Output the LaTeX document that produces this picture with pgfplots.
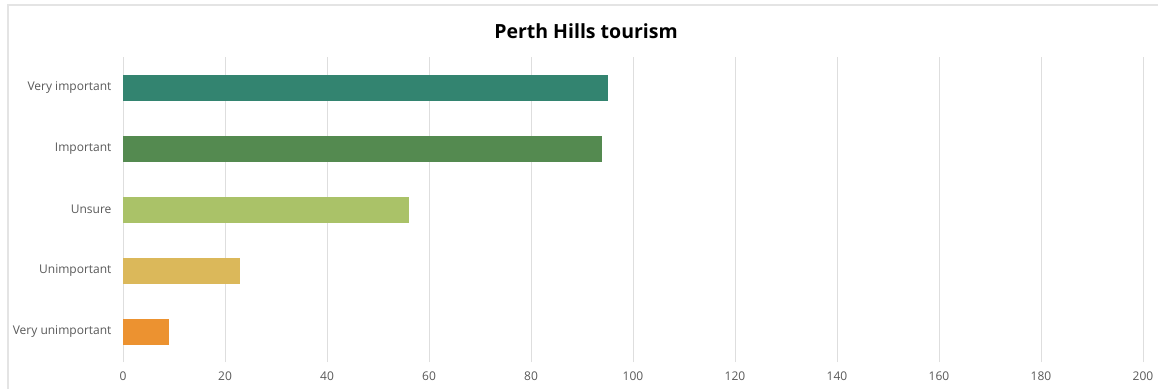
\documentclass[border=0pt]{standalone}
\usepackage{pgfplots}
\pgfplotsset{compat=1.18}
\usepackage{fontspec}
\setmainfont{Open Sans}
\definecolor{c1}{HTML}{338470}
\definecolor{c2}{HTML}{548A50}
\definecolor{c3}{HTML}{AAC268}
\definecolor{c4}{HTML}{DBB85A}
\definecolor{c5}{HTML}{EC9230}
\definecolor{txt}{HTML}{595959}
\definecolor{grd}{HTML}{DEDEDE}
\begin{document}
\begin{tikzpicture}[x=1pt,y=1pt]
\path[use as bounding box] (0,0) rectangle (1158,389);
\draw[grd!80, line width=1.2pt] (8,0) -- (8,384) -- (1160,384);
\node[font=\fontsize{19.5}{22}\selectfont\bfseries] at (586,358) {Perth Hills tourism};
\begin{axis}[
  at={(123pt,27pt)}, anchor=south west,
  scale only axis, width=1020pt, height=305pt,
  xmin=0, xmax=200, xtick={0,20,...,200},
  ymin=-0.5, ymax=4.5, ytick={0,1,2,3,4},
  yticklabels={Very unimportant,Unimportant,Unsure,Important,Very important},
  axis line style={draw=none},
  major tick length=0pt,
  xmajorgrids, grid style={grd, line width=1pt},
  tick label style={font=\fontsize{12}{14}\selectfont, text=txt},
  xticklabel style={yshift=-6pt},
  yticklabel style={xshift=-8pt},
  /pgf/number format/assume math mode=true,
  xbar, bar width=26pt, bar shift=0pt,
  clip=false,
]
\addplot[fill=c5, draw=none] coordinates {(9,0)};
\addplot[fill=c4, draw=none] coordinates {(23,1)};
\addplot[fill=c3, draw=none] coordinates {(56,2)};
\addplot[fill=c2, draw=none] coordinates {(94,3)};
\addplot[fill=c1, draw=none] coordinates {(95,4)};
\end{axis}
\end{tikzpicture}
\end{document}
